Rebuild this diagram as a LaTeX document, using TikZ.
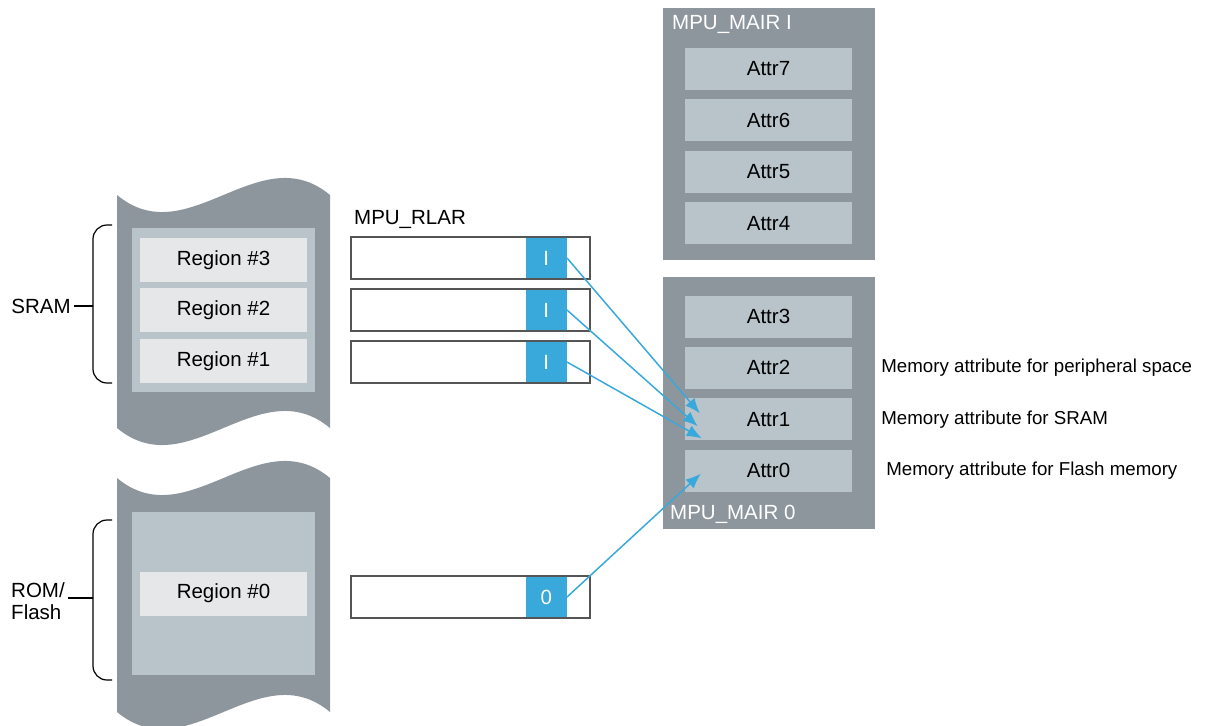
\documentclass[tikz,border=0pt]{standalone}
\usepackage{fontspec}
\setmainfont{Liberation Sans}
\usepackage{tikz}
\usetikzlibrary{arrows.meta}
\usetikzlibrary {positioning}
\usetikzlibrary{calc}
\definecolor{memgray}{HTML}{8E969D}
\definecolor{panelgray}{HTML}{B8C3CA}
\definecolor{regfill}{HTML}{E6E7E8}
\definecolor{flagblue}{HTML}{39A9DC}
\definecolor{boxline}{HTML}{555555}
\newcommand{\bigfont}{\fontsize{20.5}{22}\selectfont}
\tikzset{region node/.style={rectangle,fill=regfill,minimum width=167pt,minimum height=44pt,inner sep=0pt,font=\bigfont}}
\tikzset{attr node/.style={rectangle,fill=panelgray,minimum width=167pt,minimum height=42pt,inner sep=0pt,font=\bigfont}}
\tikzset{rlar node/.style={rectangle,draw=boxline,line width=2pt,fill=white,minimum width=239pt,minimum height=42pt,inner sep=0pt}}
\tikzset{flag node/.style={rectangle,fill=flagblue,minimum width=41pt,minimum height=40pt,inner sep=0pt,text=white,font=\bigfont}}
\tikzset{desc node/.style={inner sep=0pt,anchor=west,font=\fontsize{18.7}{22}\selectfont}}

\begin{document}
\begin{tikzpicture}[x=1pt,y=-1pt]
    \useasboundingbox (0,0) rectangle (1206,725);

    % memory blocks
    \fill[memgray] (117,195) .. controls (188,254) and (259,136) .. (330,195) -- (330,428) .. controls (259,369) and (188,487) .. (117,428) -- cycle;
    \fill[memgray] (117,478) .. controls (188,537) and (259,419) .. (330,478) -- (330,712) .. controls (259,653) and (188,771) .. (117,712) -- cycle;
    \fill[panelgray] (132,228) rectangle (315,392);
    \fill[panelgray] (132,512) rectangle (315,675);

    \node[region node] (reg_{3}) at (223.5,260) {Region \#3};
    \node[region node] (reg_{2}) [below = 6pt of reg_{3}] {Region \#2};
    \node[region node] (reg_{1}) [below = 6pt of reg_{2}] {Region \#1};
    \node[region node] (reg_{0}) at (223.5,593.5) {Region \#0};

    % braces
    \draw[line width=1.2pt,rounded corners=14pt] (112,225) -- (93,225) -- (93,383) -- (112,383);
    \draw[line width=1.2pt,rounded corners=14pt] (112,520) -- (93,520) -- (93,680) -- (112,680);
    \coordinate (tip_{s}) at (93,306);
    \coordinate (tip_{r}) at (93,598);
    \node[font=\bigfont] (sram) at (41,306) {SRAM};
    \node[font=\bigfont,align=left] (rom) at (38,601) {ROM/\\Flash};
    \draw[line width=1.2pt] (sram) -- (tip_{s});
    \draw[line width=1.2pt] (rom.east |- tip_{r}) -- (tip_{r});

    % MPU_RLAR
    \node[font=\bigfont] (rlarlabel) at (410,219) {MPU\_RLAR};
    \node[rlar node] (rlar_{3}) at (470.5,258) {};
    \node[rlar node] (rlar_{2}) [below = 8pt of rlar_{3}] {};
    \node[rlar node] (rlar_{1}) [below = 8pt of rlar_{2}] {};
    \node[rlar node] (rlar_{0}) at (470.5,597) {};
    \node[flag node] (flag_{3}) [left = 24pt of rlar_{3}.east] {I};
    \node[flag node] (flag_{2}) [left = 24pt of rlar_{2}.east] {I};
    \node[flag node] (flag_{1}) [left = 24pt of rlar_{1}.east] {I};
    \node[flag node] (flag_{0}) [left = 24pt of rlar_{0}.east] {0};

    % MPU_MAIR
    \fill[memgray] (662.5,8) rectangle (874.5,260);
    \fill[memgray] (662.5,277) rectangle (874.5,529);
    \node[inner sep=0pt,anchor=west,text=white,font=\bigfont] (mair_{1}) at (672,24) {MPU\_MAIR I};
    \node[inner sep=0pt,anchor=west,text=white,font=\bigfont] (mair_{0}) at (670,514) {MPU\_MAIR 0};
    \node[attr node] (attr_{7}) at (768.5,69) {Attr7};
    \node[attr node] (attr_{6}) [below = 9pt of attr_{7}] {Attr6};
    \node[attr node] (attr_{5}) [below = 9pt of attr_{6}] {Attr5};
    \node[attr node] (attr_{4}) [below = 9pt of attr_{5}] {Attr4};
    \node[attr node] (attr_{3}) at (768.5,316.5) {Attr3};
    \node[attr node] (attr_{2}) [below = 9pt of attr_{3}] {Attr2};
    \node[attr node] (attr_{1}) [below = 9pt of attr_{2}] {Attr1};
    \node[attr node] (attr_{0}) [below = 9pt of attr_{1}] {Attr0};

    \node[desc node] (desc_{2}) [right = 29pt of attr_{2}.east] {Memory attribute for peripheral space};
    \node[desc node] (desc_{1}) [right = 29pt of attr_{1}.east] {Memory attribute for SRAM};
    \node[desc node] (desc_{0}) [right = 34pt of attr_{0}.east] {Memory attribute for Flash memory};

    \path [-{Latex[length=15pt,width=12pt]},line width=1.5pt,every edge/.append style={draw=flagblue}]
    (flag_{3}.east) edge ($(attr_{1}.west)+(15,-6)$)
    (flag_{2}.east) edge ($(attr_{1}.west)+(13,7)$)
    (flag_{1}.east) edge ($(attr_{1}.west)+(17,19)$)
    (flag_{0}.east) edge ($(attr_{0}.west)+(16,3)$);
\end{tikzpicture}
\end{document}
